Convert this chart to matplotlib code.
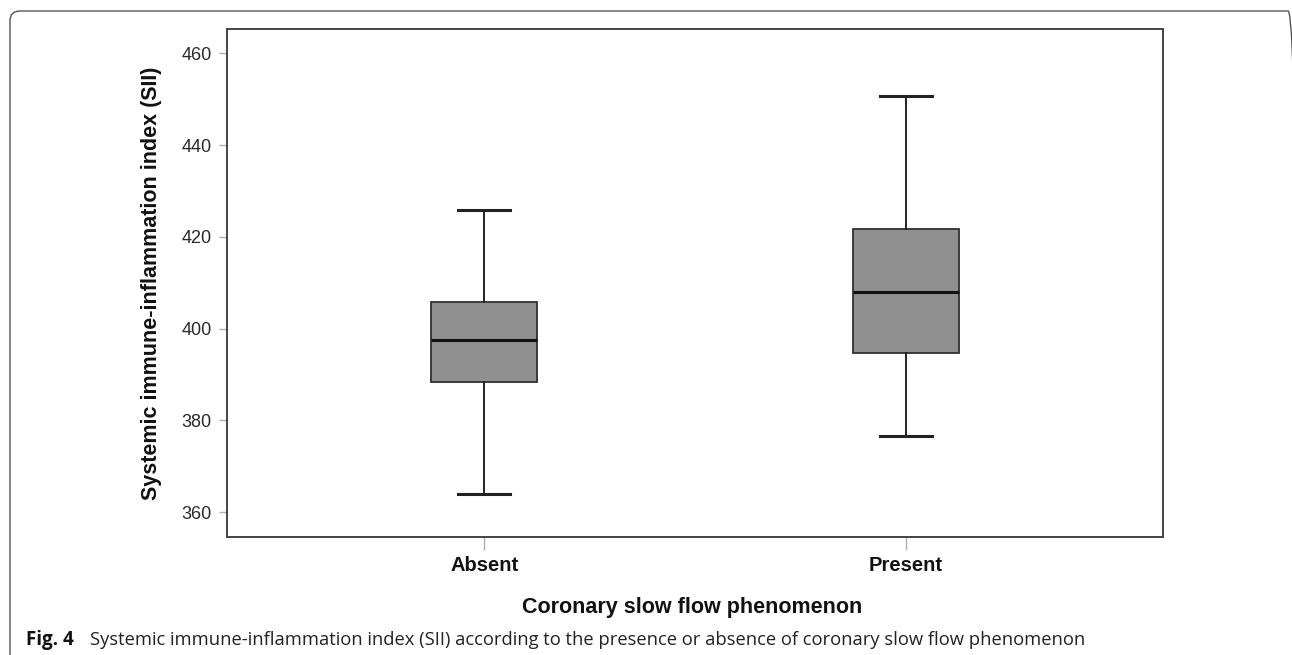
import matplotlib
matplotlib.use("Agg")
import matplotlib.pyplot as plt
from matplotlib.patches import FancyBboxPatch

# Box-plot summary values for each group
groups = ["Absent", "Present"]
whisker_low = [364.0, 376.7]
quartile_1 = [388.4, 394.8]
medians = [397.5, 407.9]
quartile_3 = [405.8, 421.7]
whisker_high = [425.8, 450.7]

y_ticks = [360, 380, 400, 420, 440, 460]

W, H = 1292, 655
fig = plt.figure(figsize=(W / 100, H / 100), dpi=100)
fig.patch.set_facecolor("white")

# background layer in pixel units (origin bottom-left) for the rounded outer frame
bg = fig.add_axes([0, 0, 1, 1], zorder=-1)
bg.set_xlim(0, W)
bg.set_ylim(0, H)
bg.axis("off")
fx0, fy_top, fx1, fy_bot = 10, 11, 1298, 665
bg.add_patch(FancyBboxPatch((fx0, H - fy_bot), fx1 - fx0, fy_bot - fy_top,
                            boxstyle="round,pad=0,rounding_size=10",
                            fill=False, edgecolor="#555555", linewidth=1.0,
                            clip_on=True))

left, right, top, bottom = 227, 1163, 29, 537
ax = fig.add_axes([left / W, (H - bottom) / H, (right - left) / W, (bottom - top) / H])

stats = []
for name, lo, q1, med, q3, hi in zip(groups, whisker_low, quartile_1, medians,
                                     quartile_3, whisker_high):
    stats.append(dict(label=name, whislo=lo, q1=q1, med=med, q3=q3, whishi=hi, fliers=[]))

positions = [1, 2]
ax.bxp(stats, positions=positions, widths=0.25, capwidths=0.124,
       patch_artist=True, showfliers=False,
       boxprops=dict(facecolor="#909090", edgecolor="#303030", linewidth=1.3),
       medianprops=dict(color="#111111", linewidth=2.2),
       whiskerprops=dict(color="#222222", linewidth=1.4),
       capprops=dict(color="#222222", linewidth=2.2))

ax.set_xlim(0.39, 2.61)
ax.set_ylim(354.6, 465.3)
ax.set_yticks(y_ticks)
ax.set_yticklabels([str(v) for v in y_ticks], fontsize=13,
                   family="Liberation Sans", color="#2a2a2a")
ax.set_xticks(positions)
ax.set_xticklabels(groups, fontsize=14.5, family="Liberation Sans",
                   fontweight="bold", color="#111111")

for s in ax.spines.values():
    s.set_color("#444444")
    s.set_linewidth(1.4)

ax.tick_params(axis="y", length=6, width=1.0, color="#b0b0b0", pad=5)
ax.tick_params(axis="x", length=9, width=1.0, color="#b0b0b0", pad=5)

fig.text(152 / W, 1 - 283 / H, "Systemic immune-inflammation index (SII)",
         rotation=90, ha="center", va="center", fontsize=15.5,
         family="Liberation Sans", fontweight="bold", color="#111111")
fig.text(692 / W, 1 - 613 / H, "Coronary slow flow phenomenon",
         ha="center", va="baseline", fontsize=15.5,
         family="Liberation Sans", fontweight="bold", color="#111111")

# figure caption
fig.text(26 / W, 1 - 645 / H, "Fig. 4", ha="left", va="baseline",
         fontsize=13.5, family="Open Sans", fontweight="bold", color="#111111")
fig.text(90 / W, 1 - 645 / H,
         "Systemic immune-inflammation index (SII) according to the presence or "
         "absence of coronary slow flow phenomenon",
         ha="left", va="baseline", fontsize=13.25, family="Open Sans",
         color="#222222")

fig.savefig("out.png", dpi=100, facecolor="white")
